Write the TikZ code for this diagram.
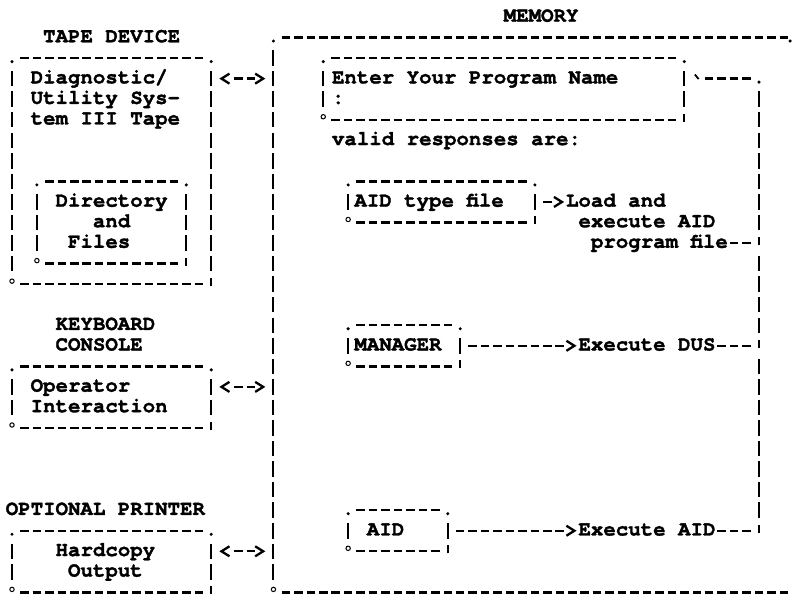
\documentclass[tikz,border=0pt]{standalone}
\usepackage{fontspec}
\newfontfamily\cur{texgyrecursor-bold.otf}[FakeBold=1.5]
\usetikzlibrary{arrows.meta,calc}
\tikzset{
  boxarea/.style={rectangle, draw=none, inner sep=0pt, outer sep=0pt},
  txt/.style={font=\cur\fontsize{20.75pt}{20.55pt}\selectfont, inner sep=0pt, outer sep=0pt, anchor=base west},
  hd/.style={line width=2.3pt, dash pattern=on 8.5pt off 3.95pt, shorten <=8.2pt, shorten >=8.2pt},
  vd/.style={line width=2pt, dash pattern=on 15.5pt off 5.05pt, shorten <=12.8pt, shorten >=12.8pt},
  conn/.style={line width=2.3pt, shorten <=8.1pt, shorten >=8.1pt},
  dotmark/.style={fill=black},
  ringmark/.style={draw=black, line width=1pt},
  tickmark/.style={line width=2pt},
}
\newcommand\asciibox[5]{%
  \node[boxarea, minimum width={(#4-(#2))*12.45pt}, minimum height={(#5-(#3))*20.55pt}] (#1) at ({(#2+#4)/2},{(#3+#5)/2}) {};
  \draw[hd] (#1.north west) -- (#1.north east);
  \draw[hd] (#1.south west) -- (#1.south east);
  \draw[vd] (#1.north west) -- (#1.south west);
  \draw[vd] (#1.north east) -- (#1.south east);
  \fill[dotmark] ([yshift=-3.5pt]#1.north west) circle[radius=1.7pt];
  \fill[dotmark] ([yshift=-3.5pt]#1.north east) circle[radius=1.7pt];
  \draw[ringmark] ([yshift=3pt]#1.south west) circle[radius=2.2pt];
  \draw[tickmark] ([yshift=-2pt]#1.south east) -- ([yshift=6pt]#1.south east);
}
\newcommand\txt[4]{\node[txt] (#1) at ({#2-0.5},{#3+0.23}) {#4};}
\begin{document}
\begin{tikzpicture}[x=12.45pt,y=-20.55pt,>={Straight Barb[length=8pt,width=10pt]}]
\fill[white] (-12pt,17pt) rectangle (780pt,-579pt);
\useasboundingbox (-12pt,17pt) rectangle (780pt,-579pt);

% ---------- labels and texts ----------
\txt{memlbl}{40}{0}{MEMORY}
\txt{tapelbl}{3}{1}{TAPE DEVICE}
\txt{ta}{2}{3}{Diagnostic/}
\txt{tb}{2}{4}{Utility Sys-}
\txt{tc}{2}{5}{tem III Tape}
\txt{da}{4}{9}{Directory}
\txt{db}{7}{10}{and}
\txt{dc}{5}{11}{Files}
\txt{kba}{4}{15}{KEYBOARD}
\txt{kbb}{4}{16}{CONSOLE}
\txt{opa}{2}{18}{Operator}
\txt{opb}{2}{19}{Interaction}
\txt{prlbl}{0}{24}{OPTIONAL PRINTER}
\txt{hca}{4}{26}{Hardcopy}
\txt{hcb}{5}{27}{Output}
\txt{ena}{26.2}{3}{Enter Your Program Name}
\txt{enb}{26.2}{4}{:}
\txt{valid}{26.2}{6}{valid responses are:}
\txt{atft}{28}{9}{AID type file}
\txt{load}{45}{9}{Load and}
\txt{exe}{46}{10}{execute AID}
\txt{pf}{47}{11}{program file}
\txt{mgrt}{28}{16}{MANAGER}
\txt{dus}{46}{16}{Execute DUS}
\txt{aidt}{29}{25}{AID}
\txt{eaid}{46}{25}{Execute AID}

% ---------- boxes ----------
\asciibox{tape}{0}{2}{16}{13}
\asciibox{dir}{2}{8}{14}{12}
\asciibox{opbox}{0}{17}{16}{20}
\asciibox{prbox}{0}{25}{16}{28}
\asciibox{enter}{25}{2}{54}{5}
\asciibox{atfbox}{27}{8}{42}{10}
\asciibox{mgrbox}{27}{15}{36}{17}
\asciibox{aidbox}{27}{24}{35}{26}

% memory area (right side runs off the page)
\node[boxarea, minimum width={41.5*12.45pt}, minimum height={27*20.55pt}] (memory) at (41.75,14.5) {};
\draw[hd, shorten >=2pt] (memory.north west) -- (memory.north east);
\draw[hd, shorten >=2pt] (memory.south west) -- (memory.south east);
\draw[vd] (memory.north west) -- (memory.south west);
\fill[dotmark] ([yshift=-3.5pt]memory.north west) circle[radius=1.7pt];
\fill[dotmark] ([yshift=-3.5pt]memory.north east) circle[radius=1.7pt];
\draw[ringmark] ([yshift=3pt]memory.south west) circle[radius=2.2pt];

% ---------- device <--> memory ----------
\draw[conn, <->, dash pattern=on 8.5pt off 3.95pt on 8.5pt off 40pt, dash phase=49.35pt] (tape.east |- 0,3) -- (memory.west |- 0,3);
\draw[conn, <->, dash pattern=on 8.5pt off 3.95pt on 8.5pt off 40pt, dash phase=49.35pt] (opbox.east |- 0,18) -- (memory.west |- 0,18);
\draw[conn, <->, dash pattern=on 8.5pt off 3.95pt on 8.5pt off 40pt, dash phase=49.35pt] (prbox.east |- 0,26) -- (memory.west |- 0,26);

% ---------- responses ----------
\draw[conn, ->, shorten >=1.9pt, dash pattern=on 8.5pt off 40pt] (atfbox.east |- 0,9) -- (load.west |- 0,9);
\draw[conn, ->, shorten >=1.9pt, dash pattern=on 8.5pt off 3.95pt on 8.5pt off 3.95pt on 8.5pt off 3.95pt on 8.5pt off 3.95pt on 8.5pt off 3.95pt on 8.5pt off 3.95pt on 8.5pt off 3.95pt on 8.5pt off 40pt] (mgrbox.east |- 0,16) -- (dus.west |- 0,16);
\draw[conn, ->, shorten >=1.9pt, dash pattern=on 8.5pt off 3.95pt on 8.5pt off 3.95pt on 8.5pt off 3.95pt on 8.5pt off 3.95pt on 8.5pt off 3.95pt on 8.5pt off 3.95pt on 8.5pt off 3.95pt on 8.5pt off 3.95pt on 8.5pt off 40pt] (aidbox.east |- 0,25) -- (eaid.west |- 0,25);

% ---------- return loop ----------
\coordinate (lt) at (60,3);
\coordinate (j1) at (60,11);
\coordinate (j2) at (60,16);
\coordinate (lb) at (60,25);
\draw[hd, shorten <=20.65pt] (enter.east |- 0,3) -- (lt);
\draw[line width=1.8pt] (54.85,2.8) -- (55.15,3.02);
\fill[dotmark] ([yshift=-3.5pt]lt) circle[radius=1.7pt];
\draw[vd] (lt) -- (j1);
\draw[vd] (j1) -- (j2);
\draw[vd] (j2) -- (lb);
\draw[hd, shorten <=2pt] (pf.east |- 0,11) -- (j1);
\draw[hd, shorten <=2pt] (dus.east |- 0,16) -- (j2);
\draw[hd, shorten <=2pt] (eaid.east |- 0,25) -- (lb);
\foreach \c in {j1,j2,lb} \draw[tickmark] ([yshift=-2pt]\c) -- ([yshift=6pt]\c);
\end{tikzpicture}
\end{document}
